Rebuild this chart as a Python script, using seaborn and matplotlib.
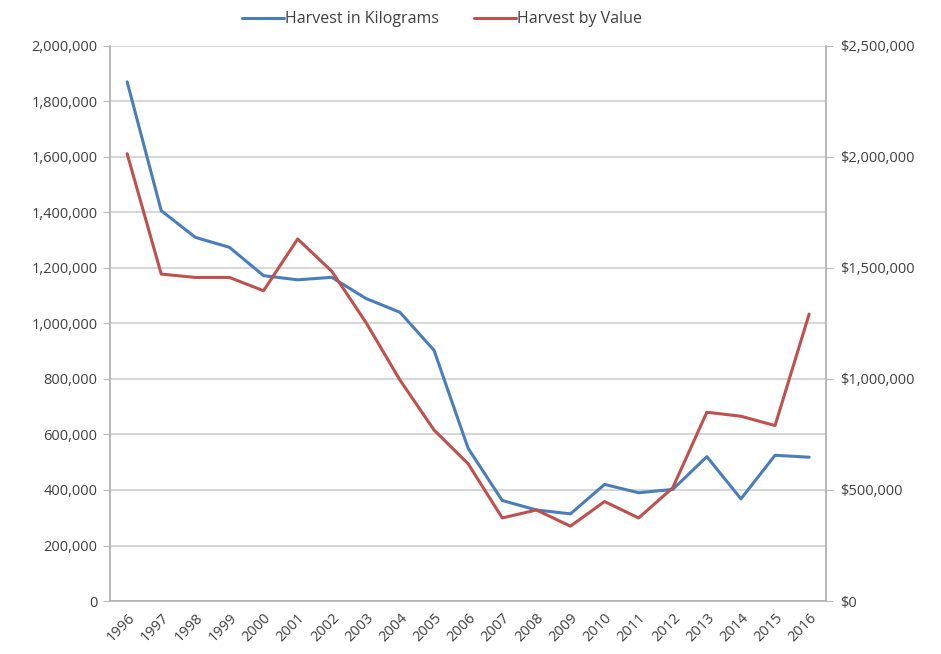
import pandas as pd
import matplotlib.pyplot as plt
import matplotlib.ticker as mticker
import seaborn as sns

# data
years = [str(y) for y in range(1996, 2017)]
harvest_kg = [1870000, 1406000, 1310000, 1274000, 1172000, 1157000, 1166000,
              1090000, 1040000, 903000, 550000, 362000, 328000, 314000,
              420000, 390000, 402000, 520000, 368000, 525000, 518000]
harvest_value = [2014000, 1472000, 1457000, 1457000, 1397000, 1630000, 1485000,
                 1255000, 995000, 770000, 618000, 374000, 410000, 337000,
                 448000, 374000, 510000, 850000, 832000, 790000, 1292000]

df = pd.DataFrame({"year": years, "idx": range(len(years)),
                   "kg": harvest_kg, "value": harvest_value})

sns.set_style("white")
plt.rcParams['font.family'] = ['Open Sans', 'DejaVu Sans']
txt = "#404040"
grid_c = "#d0d0d0"
axis_c = "#b8b8b8"
blue = "#4a7ebb"
red = "#c0504d"

fig = plt.figure(figsize=(9.41, 6.54), dpi=100)
ax = fig.add_axes([0.117, 0.081, 0.761, 0.849])
ax2 = ax.twinx()

sns.lineplot(data=df, x="idx", y="kg", ax=ax, color=blue, linewidth=2.2,
             label="Harvest in Kilograms", legend=False)
sns.lineplot(data=df, x="idx", y="value", ax=ax2, color=red, linewidth=2.2,
             label="Harvest by Value", legend=False)

ax.set_xlim(-0.5, len(years) - 0.5)
ax.set_ylim(0, 2000000)
ax2.set_ylim(0, 2500000)
ax.set_yticks(range(0, 2000001, 200000))
ax2.set_yticks(range(0, 2500001, 500000))
ax.yaxis.set_major_formatter(mticker.FuncFormatter(lambda v, p: f"{int(v):,}"))
ax2.yaxis.set_major_formatter(mticker.FuncFormatter(lambda v, p: f"${int(v):,}"))

ax.grid(axis="y", color=grid_c, linewidth=1.2)
ax.set_axisbelow(True)

# category axis: labels at centres, tick marks between categories
ax.set_xticks(df["idx"])
ax.set_xticklabels(years, rotation=45, ha="right", rotation_mode="anchor")
ax.set_xticks([i - 0.5 for i in range(len(years) + 1)], minor=True)
ax.tick_params(axis="x", which="major", length=0, pad=7)
ax.tick_params(axis="x", which="minor", length=5, color=axis_c, direction="out")
ax.tick_params(axis="y", length=5, color=axis_c, direction="out", pad=4)
ax2.tick_params(axis="y", length=5, color=axis_c, direction="out", pad=5)
ax.tick_params(labelsize=10.5, labelcolor=txt)
ax2.tick_params(labelsize=10.5, labelcolor=txt)

ax.set_xlabel("")
ax.set_ylabel("")
ax2.set_ylabel("")
for a in (ax, ax2):
    for side in ("left", "right", "bottom"):
        a.spines[side].set_visible(True)
        a.spines[side].set_color(axis_c)
        a.spines[side].set_linewidth(1.2)
    a.spines["top"].set_visible(False)

h1, l1 = ax.get_legend_handles_labels()
h2, l2 = ax2.get_legend_handles_labels()
fig.legend(h1 + h2, l1 + l2, loc="upper center", bbox_to_anchor=(0.47, 1.005),
           ncol=2, frameon=False, fontsize=11.5, labelcolor=txt,
           handlelength=2.6, handletextpad=0.1, columnspacing=2.2)

fig.savefig("out.png", dpi=100)
